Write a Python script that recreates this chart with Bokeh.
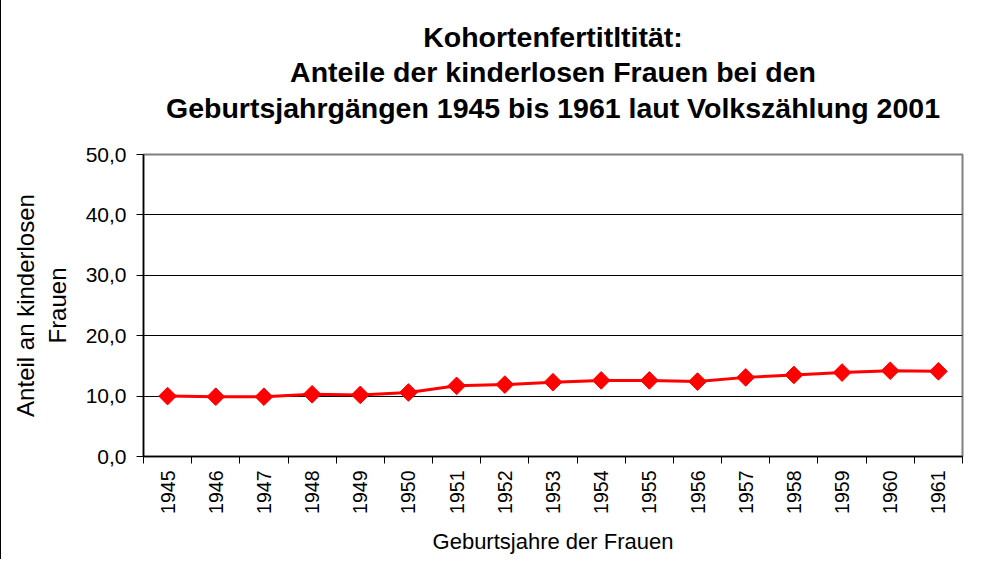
import math
from bokeh.plotting import figure
from bokeh.layouts import column
from bokeh.models import FixedTicker, Range1d
from bokeh.core.properties import value
from bokeh.embed import file_html
from bokeh.resources import INLINE

# ---- data ----
years = list(range(1945, 1962))
share = [10.0, 9.9, 9.9, 10.3, 10.2, 10.6, 11.7, 11.9, 12.3, 12.6, 12.6, 12.4, 13.1, 13.5, 13.9, 14.2, 14.1]
y_ticks = [0, 10, 20, 30, 40, 50]
y_tick_labels = ["0,0", "10,0", "20,0", "30,0", "40,0", "50,0"]
title_lines = [
    "Kohortenfertitltität:",
    "Anteile der kinderlosen Frauen bei den",
    "Geburtsjahrgängen 1945 bis 1961 laut Volkszählung 2001",
]
x_label = "Geburtsjahre der Frauen"
y_label = "Anteil an kinderlosen\nFrauen"

FONT = "Liberation Sans"

# ---- layout constants (pixels) ----
W = 977
LEFT, RIGHT = 142, 16
FRAME_W, FRAME_H = W - LEFT - RIGHT, 302
TITLE_H = 134
MAIN_TOP, MAIN_BOTTOM = 20, 103
title_baselines = [36, 71, 107]   # from top of the title strip

# ---- title strip (its frame is aligned with the chart's frame) ----
tp = figure(width=W, height=TITLE_H, x_range=Range1d(0, FRAME_W), y_range=Range1d(0, TITLE_H),
            output_backend="svg", toolbar_location=None, min_border=0,
            x_axis_location=None, y_axis_location=None)
tp.grid.visible = False
tp.outline_line_color = None
tp.background_fill_color = "white"
tp.border_fill_color = "white"
tp.text(x=[FRAME_W / 2] * len(title_lines),
        y=[TITLE_H - b for b in title_baselines],
        text=title_lines, text_align="center", text_baseline="alphabetic",
        text_font=value(FONT), text_font_size="28.5px", text_font_style="bold",
        text_color="black")

# ---- main chart ----
p = figure(frame_width=FRAME_W, frame_height=FRAME_H,
           x_range=Range1d(years[0] - 0.5, years[-1] + 0.5),
           y_range=Range1d(y_ticks[0], y_ticks[-1]),
           output_backend="svg", toolbar_location=None,
           min_border_left=LEFT, min_border_right=RIGHT,
           min_border_top=MAIN_TOP, min_border_bottom=MAIN_BOTTOM)
p.background_fill_color = "white"
p.border_fill_color = "white"
p.outline_line_color = "#808080"
p.outline_line_width = 2

# y axis
p.yaxis.ticker = FixedTicker(ticks=y_ticks)
p.yaxis.major_label_overrides = {t: l for t, l in zip(y_ticks, y_tick_labels)}
p.yaxis.major_tick_out = 7
p.yaxis.major_tick_in = 0
p.yaxis.minor_tick_line_color = None
p.yaxis.axis_line_color = "black"
p.yaxis.axis_line_width = 1.5
p.yaxis.major_label_text_font = FONT
p.yaxis.major_label_text_font_size = "21px"
p.yaxis.major_label_text_color = "black"
p.yaxis.major_label_standoff = 10
p.yaxis.axis_label = y_label
p.yaxis.axis_label_text_font = FONT
p.yaxis.axis_label_text_font_size = "24px"
p.yaxis.axis_label_text_font_style = "normal"
p.yaxis.axis_label_text_color = "black"
p.yaxis.axis_label_text_line_height = 1.17
p.yaxis.axis_label_standoff = 12

# x axis
bounds = [y - 0.5 for y in years] + [years[-1] + 0.5]
p.xaxis.ticker = FixedTicker(ticks=years, minor_ticks=bounds)
p.xaxis.major_tick_out = 0
p.xaxis.major_tick_in = 0
p.xaxis.minor_tick_out = 7
p.xaxis.minor_tick_in = 0
p.xaxis.minor_tick_line_color = "black"
p.xaxis.axis_line_color = "black"
p.xaxis.axis_line_width = 1.5
p.xaxis.major_label_orientation = math.pi / 2
p.xaxis.major_label_text_font = FONT
p.xaxis.major_label_text_font_size = "19.5px"
p.xaxis.major_label_text_color = "black"
p.xaxis.major_label_standoff = 7
p.xaxis.axis_label = x_label
p.xaxis.axis_label_text_font = FONT
p.xaxis.axis_label_text_font_size = "22px"
p.xaxis.axis_label_text_font_style = "normal"
p.xaxis.axis_label_text_color = "black"
p.xaxis.axis_label_standoff = 12

p.xgrid.visible = False
p.ygrid.ticker = FixedTicker(ticks=y_ticks[1:-1])
p.ygrid.grid_line_color = "black"
p.ygrid.grid_line_width = 1

p.line(years, share, line_color="#FF0000", line_width=3)
p.scatter(years, share, marker="square", angle=math.pi / 4, size=12.5,
          fill_color="#FF0000", line_color="#FF0000")

layout = column(tp, p, spacing=0)
layout.styles = {"border-left": "1px solid black"}

open("out.html", "w").write(file_html(layout, INLINE))
